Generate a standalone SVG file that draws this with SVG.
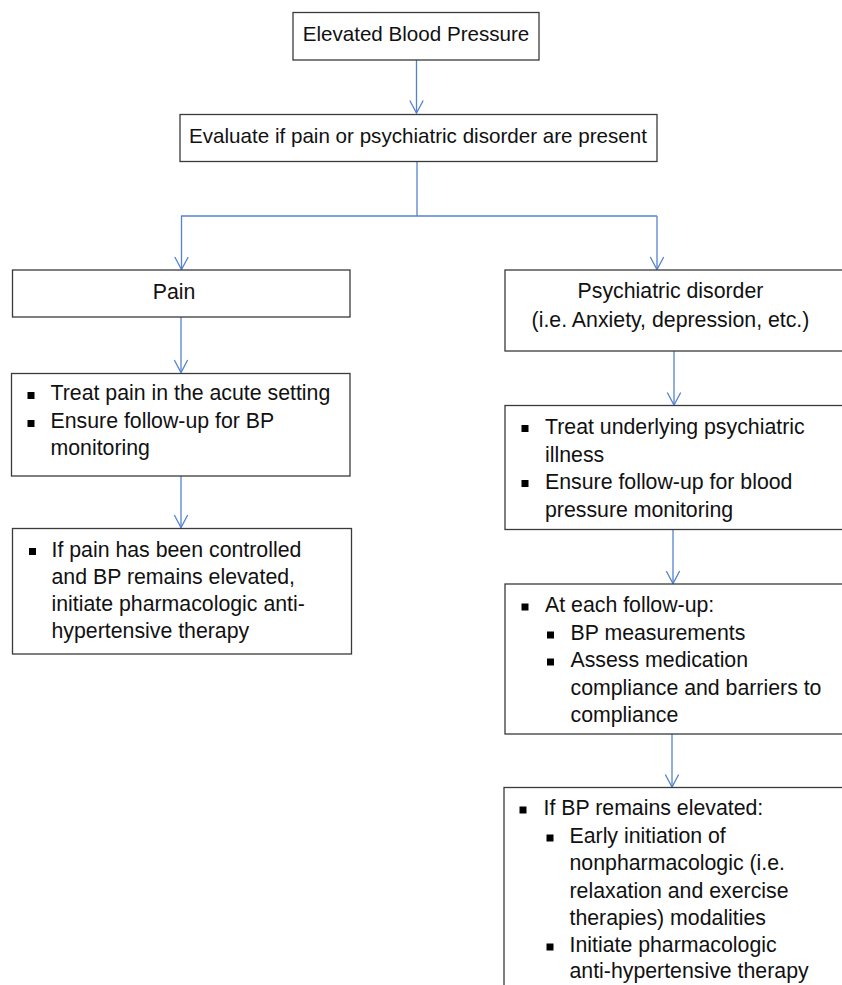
<svg xmlns="http://www.w3.org/2000/svg" width="842" height="985" viewBox="0 0 842 985">
<defs>
<marker id="arr" viewBox="0 0 16 16" refX="14" refY="8" markerWidth="16" markerHeight="16" markerUnits="userSpaceOnUse" orient="auto">
<path d="M1.5 1.3 L14 8 L1.5 14.7" fill="none" stroke="#5583d1" stroke-width="1.3"/>
</marker>
<style>
.box{fill:#fff;stroke:#3a3a3a;stroke-width:1.3}
.t{font-family:"Liberation Sans",Arial,Helvetica,sans-serif;font-size:21.3px;fill:#111}
.tt{font-family:"Liberation Sans",Arial,Helvetica,sans-serif;font-size:20.6px;fill:#111}
.c{stroke:#5583d1;stroke-width:1.3;fill:none}
.b{fill:#000}
</style>
</defs>
<rect width="842" height="985" fill="#fff"/>
<g id="connectors">
<line class="c" x1="416.5" y1="60" x2="416.5" y2="113" marker-end="url(#arr)"/>
<polyline class="c" points="417,161 417,216"/>
<line class="c" x1="181" y1="216" x2="657" y2="216"/>
<line class="c" x1="181.5" y1="216" x2="181.5" y2="269.5" marker-end="url(#arr)"/>
<line class="c" x1="657" y1="216" x2="657" y2="269.5" marker-end="url(#arr)"/>
<line class="c" x1="181" y1="317" x2="181" y2="372.5" marker-end="url(#arr)"/>
<line class="c" x1="181" y1="476" x2="181" y2="527.5" marker-end="url(#arr)"/>
<line class="c" x1="674" y1="351" x2="674" y2="405" marker-end="url(#arr)"/>
<line class="c" x1="673" y1="529" x2="673" y2="583.5" marker-end="url(#arr)"/>
<line class="c" x1="672" y1="734" x2="672" y2="787" marker-end="url(#arr)"/>
</g>
<g id="n-elevated">
<rect class="box" x="293" y="12.5" width="246" height="47.5"/>
<text class="tt" x="416" y="41" text-anchor="middle">Elevated Blood Pressure</text>
</g>
<g id="n-evaluate">
<rect class="box" x="180" y="114.5" width="477" height="47"/>
<text class="tt" x="418" y="143" text-anchor="middle">Evaluate if pain or psychiatric disorder are present</text>
</g>
<g id="n-pain">
<rect class="box" x="12.5" y="270" width="337.5" height="47"/>
<text class="t" x="174" y="299" text-anchor="middle">Pain</text>
</g>
<g id="n-psych">
<rect class="box" x="505" y="270" width="350" height="81"/>
<text class="t" x="670.5" y="298" text-anchor="middle">Psychiatric disorder</text>
<text class="t" x="670.5" y="326.5" text-anchor="middle">(i.e. Anxiety, depression, etc.)</text>
</g>
<g id="n-treat-pain">
<rect class="box" x="11.5" y="373.5" width="338.5" height="102.5"/>
<rect class="b" x="27.5" y="392" width="7" height="7"/>
<text class="t" x="50.5" y="400">Treat pain in the acute setting</text>
<rect class="b" x="27.5" y="420" width="7" height="7"/>
<text class="t" x="50.5" y="428">Ensure follow-up for BP</text>
<text class="t" x="50.5" y="455">monitoring</text>
</g>
<g id="n-pain-controlled">
<rect class="box" x="12.5" y="528.5" width="339" height="125.5"/>
<rect class="b" x="29" y="548" width="7" height="7"/>
<text class="t" x="51.5" y="556.5">If pain has been controlled</text>
<text class="t" x="51.5" y="583.5">and BP remains elevated,</text>
<text class="t" x="51.5" y="611">initiate pharmacologic anti-</text>
<text class="t" x="51.5" y="638">hypertensive therapy</text>
</g>
<g id="n-treat-psych">
<rect class="box" x="505" y="405.5" width="350" height="124"/>
<rect class="b" x="521.5" y="425" width="7" height="7"/>
<text class="t" x="545" y="433.5">Treat underlying psychiatric</text>
<text class="t" x="545" y="461.5">illness</text>
<rect class="b" x="521.5" y="480" width="7" height="7"/>
<text class="t" x="545" y="488.5">Ensure follow-up for blood</text>
<text class="t" x="545" y="516.5">pressure monitoring</text>
</g>
<g id="n-followup">
<rect class="box" x="505" y="584" width="350" height="150"/>
<rect class="b" x="521.5" y="603.5" width="7" height="7"/>
<text class="t" x="545" y="611.5">At each follow-up:</text>
<rect class="b" x="547" y="631.5" width="7" height="7"/>
<text class="t" x="570.5" y="640">BP measurements</text>
<rect class="b" x="547" y="658.5" width="7" height="7"/>
<text class="t" x="570.5" y="666.5">Assess medication</text>
<text class="t" x="570.5" y="695">compliance and barriers to</text>
<text class="t" x="570.5" y="721.5">compliance</text>
</g>
<g id="n-remains">
<rect class="box" x="504" y="787.5" width="351" height="220"/>
<rect class="b" x="519.5" y="806.5" width="7" height="7"/>
<text class="t" x="543.5" y="815">If BP remains elevated:</text>
<rect class="b" x="546.5" y="834.5" width="7" height="7"/>
<text class="t" x="569.5" y="842.5">Early initiation of</text>
<text class="t" x="569.5" y="870">nonpharmacologic (i.e.</text>
<text class="t" x="569.5" y="897.5">relaxation and exercise</text>
<text class="t" x="569.5" y="925">therapies) modalities</text>
<rect class="b" x="546.5" y="943.5" width="7" height="7"/>
<text class="t" x="569.5" y="951.5">Initiate pharmacologic</text>
<text class="t" x="569.5" y="978">anti-hypertensive therapy</text>
</g>
</svg>
